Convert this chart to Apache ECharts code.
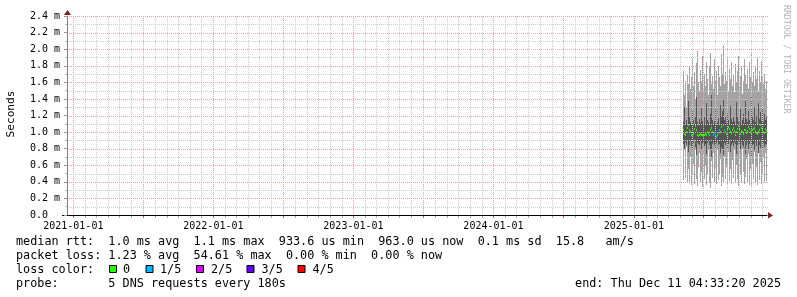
<!DOCTYPE html>
<html><head><meta charset="utf-8">
<script src="https://cdn.jsdelivr.net/npm/echarts@6/dist/echarts.min.js"></script>
<style>html,body{margin:0;padding:0;background:#fff}#c{width:797px;height:297px}</style>
</head><body><div id="c"></div>
<script>
// ---- axis ranges and ticks ----
const xRangeStart = '2020-12-15T12:00:00Z';
const xRangeEnd = '2025-12-13T22:00:00Z';
const xTickLabels = ['2021-01-01', '2022-01-01', '2023-01-01', '2024-01-01', '2025-01-01'];
const yTickValues = [0, 0.2, 0.4, 0.6, 0.8, 1.0, 1.2, 1.4, 1.6, 1.8, 2.0, 2.2, 2.4];

// ---- data (ms), one entry per consolidated RRD step ----
const dataStart = '2025-05-08T00:00:00Z';
const stepDays = 2.6063;
const maxMs = [
  1.74,1.45,1.62,1.30,1.70,1.58,1.78,1.52,1.66,1.88,
  1.55,1.72,1.40,1.83,1.98,1.60,1.50,1.75,1.62,1.92,
  1.48,1.70,1.56,1.85,1.64,1.45,1.78,1.95,1.58,1.68,
  1.52,1.88,1.62,1.74,1.45,1.80,1.66,1.55,1.94,1.70,
  2.05,1.58,1.72,1.62,1.90,1.50,1.76,1.64,1.85,1.56,
  1.70,1.48,1.82,1.60,1.74,1.92,1.55,1.68,1.80,1.46,
  1.62,1.88,1.70,1.58,1.76,1.52,1.84,1.66,1.96,1.60,
  1.72,1.55,1.80,1.64,1.90,1.50,1.74,1.60,1.86,1.66,
  1.58,1.70,1.52,1.62];
const upperMs = [
  1.12,1.30,1.10,1.15,1.08,1.38,1.18,1.12,1.09,1.25,
  1.14,1.10,1.20,1.42,1.12,1.08,1.16,1.11,1.30,1.13,
  1.09,1.18,1.10,1.35,1.14,1.12,1.08,1.22,1.45,1.15,
  1.10,1.13,1.28,1.09,1.12,1.17,1.10,1.33,1.20,1.26,
  1.40,1.14,1.18,1.11,1.24,1.15,1.10,1.32,1.16,1.12,
  1.20,1.13,1.10,1.36,1.18,1.12,1.15,1.28,1.10,1.14,
  1.22,1.11,1.38,1.16,1.12,1.26,1.14,1.10,1.42,1.18,
  1.15,1.30,1.12,1.20,1.10,1.35,1.16,1.24,1.13,1.28,
  1.12,1.22,1.15,1.18];
const medianMs = [
  1.02,0.98,0.97,1.00,1.05,1.08,1.03,1.00,0.97,0.96,
  0.98,1.04,1.07,1.02,0.97,0.95,0.96,0.98,0.97,0.96,
  0.95,0.96,0.98,0.97,1.00,0.99,0.96,1.02,1.05,1.00,
  0.97,0.99,0.96,0.94,0.97,0.99,1.02,1.00,1.06,1.12,
  1.08,1.03,1.00,0.98,1.02,1.06,1.04,1.00,0.99,1.03,
  1.05,1.01,0.97,1.00,1.04,1.07,1.02,0.98,1.01,1.00,
  0.98,1.02,1.03,0.99,1.01,1.06,1.04,1.00,0.99,1.02,
  1.04,1.05,1.01,0.99,0.98,1.00,1.02,1.08,1.05,1.03,
  1.00,0.99,1.04,1.01];
const lowerMs = [
  0.86,0.80,0.88,0.84,0.90,0.76,0.85,0.89,0.83,0.78,
  0.87,0.90,0.82,0.72,0.88,0.86,0.84,0.89,0.79,0.87,
  0.88,0.83,0.86,0.74,0.87,0.89,0.85,0.80,0.70,0.86,
  0.88,0.85,0.78,0.87,0.89,0.84,0.86,0.75,0.82,0.80,
  0.72,0.87,0.84,0.88,0.81,0.86,0.89,0.76,0.85,0.87,
  0.83,0.88,0.86,0.74,0.84,0.89,0.86,0.79,0.88,0.85,
  0.82,0.89,0.73,0.85,0.88,0.80,0.86,0.89,0.70,0.84,
  0.86,0.78,0.88,0.83,0.89,0.75,0.85,0.81,0.88,0.79,
  0.87,0.82,0.86,0.84];
const minMs = [
  0.42,0.78,0.45,0.82,0.38,0.55,0.40,0.70,0.36,0.48,
  0.62,0.37,0.80,0.44,0.35,0.58,0.75,0.40,0.52,0.34,
  0.72,0.43,0.60,0.36,0.50,0.78,0.38,0.33,0.65,0.45,
  0.75,0.40,0.55,0.37,0.80,0.42,0.50,0.68,0.35,0.46,
  0.38,0.70,0.44,0.58,0.36,0.76,0.41,0.55,0.37,0.66,
  0.45,0.78,0.40,0.60,0.43,0.35,0.72,0.48,0.38,0.80,
  0.52,0.37,0.46,0.68,0.40,0.74,0.36,0.55,0.34,0.62,
  0.44,0.76,0.39,0.58,0.36,0.80,0.42,0.64,0.37,0.50,
  0.70,0.40,0.75,0.41];
const lossIdx = [
  0,0,0,0,0,0,0,0,1,0,
  0,0,0,0,0,0,0,0,0,0,
  0,0,0,0,0,0,0,0,0,0,
  1,1,1,1,0,1,1,0,0,3,
  0,1,0,0,0,0,0,0,0,0,
  0,0,0,0,0,0,0,0,0,0,
  0,0,0,0,0,0,0,0,0,0,
  0,0,0,0,0,0,0,0,0,0,
  0,0,0,0];

// ---- legend ----
const lossLabels = ['0', '1/5', '2/5', '3/5', '4/5'];
const lossColors = ['#26ff00', '#00b8ff', '#dd00ff', '#5e00ff', '#ff0000'];
const legendRtt = 'median rtt:  1.0 ms avg  1.1 ms max  933.6 us min  963.0 us now  0.1 ms sd  15.8   am/s';
const legendLoss = 'packet loss: 1.23 % avg  54.61 % max  0.00 % min  0.00 % now';
const legendLossColor = 'loss color:';
const legendProbe = 'probe:       5 DNS requests every 180s';
const legendEnd = 'end: Thu Dec 11 04:33:20 2025';
const yAxisTitle = 'Seconds';
const watermark = 'RRDTOOL / TOBI OETIKER';

// ---- build ----
const MONO = '"DejaVu Sans Mono", monospace';
const DAY = 86400000;
const xMin = Date.parse(xRangeStart), xMax = Date.parse(xRangeEnd);
const t0 = Date.parse(dataStart), stepMs = stepDays * DAY;
const times = maxMs.map((_, i) => t0 + i * stepMs);
const smokeData = times.map((t, i) => [t, minMs[i], lowerMs[i], upperMs[i], maxMs[i]]);
const medData = times.map((t, i) => [t, medianMs[i], lossIdx[i]]);

// grid positions: monthly (minor) and half-yearly (major) on x, 0.1 steps on y
const vGrid = [];
for (let y = 2020; y <= 2025; y++) for (let m = 0; m < 12; m++) {
  const v = Date.UTC(y, m, 1);
  if (v < xMin || v > xMax) continue;
  vGrid.push([v, (m === 0 || m === 6) ? 1 : 0]);
}
const hGrid = [];
yTickValues.forEach((v, i) => {
  if (i > 0) hGrid.push([(v + yTickValues[i - 1]) / 2, 0]);
  if (i > 0) hGrid.push([v, 1]);
});
const labelTicks = xTickLabels.map(s => Date.parse(s + 'T00:00:00Z'));

const MGRID = '#e2a4a4';
const GRID = '#cccccc';

const chart = echarts.init(document.getElementById('c'), null, {renderer: 'canvas'});
chart.setOption({
  animation: false,
  backgroundColor: '#ffffff',
  grid: {left: 67, right: 30, top: 16, bottom: 82, containLabel: false},
  xAxis: [{
    type: 'value', min: xMin, max: xMax, position: 'bottom', z: 4,
    axisLine: {show: true, lineStyle: {color: '#000', width: 1}},
    axisTick: {show: false}, axisLabel: {show: false}, splitLine: {show: false}
  }, {
    type: 'value', min: xMin, max: xMax, position: 'bottom',
    axisLine: {show: false}, axisTick: {show: false}, splitLine: {show: false},
    axisLabel: {show: true, customValues: labelTicks, margin: 6, color: '#000',
      fontFamily: MONO, fontSize: 10,
      formatter: v => new Date(v).toISOString().slice(0, 10)}
  }],
  yAxis: {
    type: 'value', min: yTickValues[0], max: yTickValues[yTickValues.length - 1], interval: 0.2, z: 4,
    axisLine: {show: true, lineStyle: {color: '#808080'}},
    axisTick: {show: true, length: 3, lineStyle: {color: '#999'}},
    minorTick: {show: true, splitNumber: 2, length: 2, lineStyle: {color: '#bbb'}},
    axisLabel: {color: '#000', fontFamily: MONO, fontSize: 10, margin: 7,
      formatter: v => (Math.abs(v) < 1e-9 ? '0.0  ' : v.toFixed(1) + ' m')},
    splitLine: {show: false}, minorSplitLine: {show: false}
  },
  series: [{
    type: 'custom', name: 'smoke', xAxisIndex: 0, z: 2,
    data: smokeData,
    encode: {x: 0, y: [1, 4]},
    renderItem: (params, api) => {
      const t = api.value(0);
      const xa = Math.round(api.coord([t, 0])[0]);
      const xb = Math.round(api.coord([t + stepMs, 0])[0]);
      const w = Math.max(1, xb - xa);
      const yMin = Math.round(api.coord([t, api.value(1)])[1]);
      const yLo = Math.round(api.coord([t, api.value(2)])[1]);
      const yHi = Math.round(api.coord([t, api.value(3)])[1]);
      const yMax = Math.round(api.coord([t, api.value(4)])[1]);
      return {type: 'group', children: [
        {type: 'rect', shape: {x: xa, y: yMax, width: w, height: yMin - yMax}, style: {fill: '#a3a3a3'}},
        {type: 'rect', shape: {x: xa, y: yHi, width: w, height: yLo - yHi}, style: {fill: '#555555'}}
      ]};
    }
  }, {
    type: 'custom', name: 'vgrid', xAxisIndex: 0, z: 3, silent: true,
    data: vGrid, encode: {x: 0},
    renderItem: (params, api) => {
      const cs = params.coordSys;
      const x = Math.round(api.coord([api.value(0), 0])[0]) + 0.5;
      const major = api.value(1) === 1;
      const col = major ? MGRID : GRID;
      return {type: 'group', children: [
        {type: 'line', shape: {x1: x, y1: cs.y, x2: x, y2: cs.y + cs.height}, style: {stroke: col, lineWidth: 1, lineDash: [1, 1]}},
        {type: 'line', shape: {x1: x, y1: cs.y + cs.height, x2: x, y2: cs.y + cs.height + 3}, style: {stroke: major ? '#c06060' : '#aaa', lineWidth: 1}}
      ]};
    }
  }, {
    type: 'custom', name: 'hgrid', xAxisIndex: 0, z: 3, silent: true,
    data: hGrid, encode: {y: 0},
    renderItem: (params, api) => {
      const cs = params.coordSys;
      const y = Math.round(api.coord([xMin, api.value(0)])[1]) + 0.5;
      const col = api.value(1) === 1 ? MGRID : GRID;
      return {type: 'line', shape: {x1: cs.x, y1: y, x2: cs.x + cs.width + 1, y2: y}, style: {stroke: col, lineWidth: 1, lineDash: [1, 1]}};
    }
  }, {
    type: 'custom', name: 'median', xAxisIndex: 0, z: 10,
    data: medData,
    encode: {x: 0, y: 1},
    renderItem: (params, api) => {
      const t = api.value(0);
      const xa = Math.round(api.coord([t, 0])[0]);
      const xb = Math.round(api.coord([t + stepMs, 0])[0]);
      const w = Math.max(1, xb - xa);
      const y = Math.round(api.coord([t, api.value(1)])[1]);
      return {type: 'rect', shape: {x: xa, y: y - 1, width: w, height: 2},
        style: {fill: lossColors[api.value(2)]}};
    }
  }]
});

function decorate() {
  const o = chart.convertToPixel({xAxisIndex: 0, yAxisIndex: 0}, [xMin, 0]);
  const e = chart.convertToPixel({xAxisIndex: 0, yAxisIndex: 0}, [xMax, 2.4]);
  const ax = Math.round(o[0]) , ay = Math.round(o[1]);
  const ex = Math.round(e[0]), ey = Math.round(e[1]);
  const txt = (text, x, y, extra) => Object.assign({type: 'text', x, y, silent: true,
    style: Object.assign({text, font: '11.8px ' + MONO, fill: '#000', verticalAlign: 'middle'}, extra || {})});
  const els = [
    {type: 'polygon', shape: {points: [[ex + 1, ay - 3], [ex + 1, ay + 3.5], [ex + 6, ay + 0.5]]}, style: {fill: '#7f1f1f'}},
    {type: 'polygon', shape: {points: [[ax - 3, ey - 1], [ax + 4, ey - 1], [ax + 0.5, ey - 6]]}, style: {fill: '#7f1f1f'}},
    {type: 'line', shape: {x1: ax - 5, y1: ay + 0.5, x2: ax, y2: ay + 0.5}, style: {stroke: '#000', lineWidth: 1}},
    txt(yAxisTitle, 11, 114, {align: 'center', font: '11.2px ' + MONO}),
    txt(legendRtt, 16, 242),
    txt(legendLoss, 16, 256),
    txt(legendLossColor, 16, 270),
    txt(legendProbe, 16, 284),
    txt(legendEnd, 781, 284, {align: 'right'}),
    {type: 'text', x: 786, y: 5, rotation: -Math.PI / 2, silent: true,
      style: {text: watermark, font: '8.2px ' + MONO, fill: '#b4b4b4', verticalAlign: 'middle', align: 'left'}}
  ];
  els[3].rotation = Math.PI / 2;
  const boxX = [109, 145.5, 196, 246.5, 297.5];
  const labX = [123, 160, 211, 261.5, 312.5];
  lossLabels.forEach((lab, i) => {
    els.push({type: 'rect', shape: {x: boxX[i] + 0.5, y: 265.5, width: 7, height: 7},
      style: {fill: lossColors[i], stroke: '#000', lineWidth: 1}});
    els.push(txt(lab, labX[i], 270));
  });
  chart.setOption({graphic: {elements: els}});
}
decorate();
</script></body></html>
